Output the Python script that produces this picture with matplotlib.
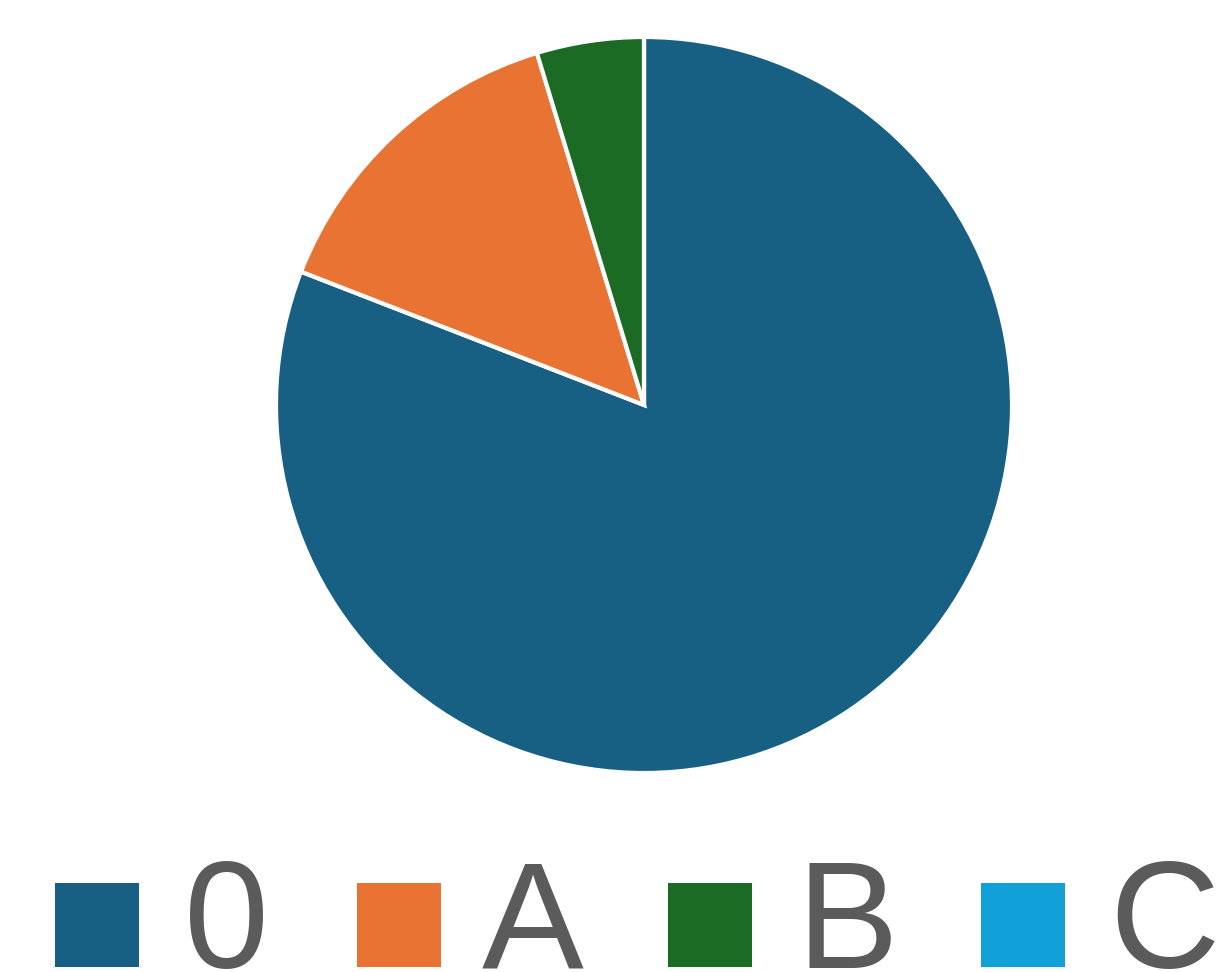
import matplotlib.pyplot as plt
from matplotlib.patches import Rectangle

plt.rcParams['font.family'] = ['Liberation Sans', 'DejaVu Sans']

labels = ['0', 'A', 'B', 'C']
values = [80.9, 14.4, 4.7, 0]
colors = ['#176083', '#E87332', '#1C6B24', '#11A0D7']

W, H = 1228, 972
fig = plt.figure(figsize=(W / 100, H / 100), dpi=100)

# pie axes: centre ~(644, 405) px, radius ~368 px
cx, cy, r = 644, 405, 368
ax = fig.add_axes([(cx - r) / W, (H - cy - r) / H, 2 * r / W, 2 * r / H])
ax.pie(values, colors=colors, startangle=90, counterclock=False, radius=1,
       wedgeprops=dict(edgecolor='white', linewidth=3))
ax.set_xlim(-1, 1)
ax.set_ylim(-1, 1)
ax.set_aspect('equal')
ax.axis('off')

# legend drawn on an overlay axes in pixel coords
lax = fig.add_axes([0, 0, 1, 1])
lax.set_xlim(0, W)
lax.set_ylim(H, 0)
lax.axis('off')
sq_x = [55, 357, 668, 981]
txt_x = [227, 533, 847, 1164]
for c, lab, sx, tx in zip(colors, labels, sq_x, txt_x):
    lax.add_patch(Rectangle((sx, 883), 84, 84, facecolor=c, edgecolor='none'))
    lax.text(tx, 968, lab, ha='center', va='baseline', fontsize=110, color='#5b5b5b')

fig.savefig('out.png', dpi=100)
